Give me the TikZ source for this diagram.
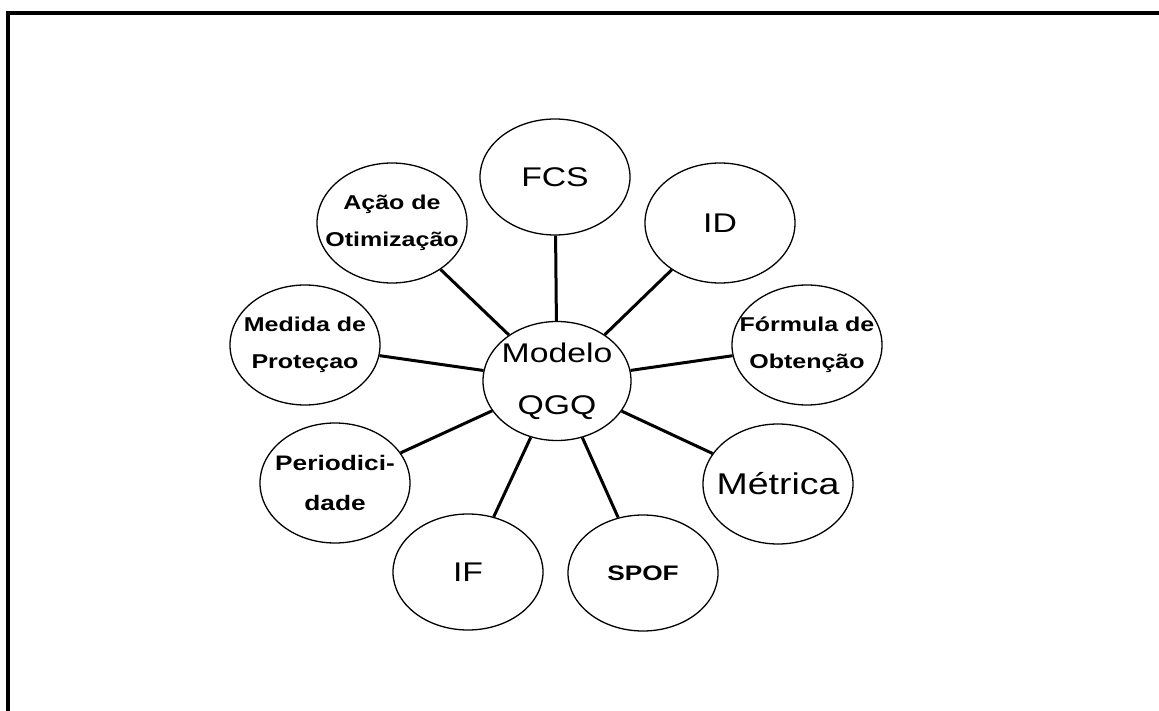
\documentclass[tikz,border=0pt]{standalone}
\usepackage{fontspec}
\setmainfont{Liberation Sans}[FakeStretch=1.25]
\usetikzlibrary{shapes.geometric}

\tikzset{
  bubble/.style={draw, ellipse, line width=1.3pt, minimum width=150pt, minimum height=120pt, inner sep=0pt},
  biglbl/.style={font=\fontsize{27}{52}\selectfont, align=center, inner sep=0pt},
  smalllbl/.style={font=\bfseries\fontsize{20}{37}\selectfont, align=center, inner sep=0pt},
  spoke/.style={line width=3pt}
}

\begin{document}
\begin{tikzpicture}[x=1pt, y=-1pt]
            \useasboundingbox (0,0) rectangle (1159,711);
            \draw[line width=3.5pt] (8,711) -- (8,13) -- (1159,13);
            % centre
            \node[bubble, minimum width=148pt, minimum height=119pt, label={[biglbl]center:{Modelo\\QGQ}}] (qgq) at (557,381) {};
            % ring
            \node[bubble, minimum height=116pt, label={[biglbl]center:FCS}]                       (fcs)  at (555,177) {};
            \node[bubble, label={[biglbl]center:ID}]                                              (id)   at (720,223) {};
            \node[bubble, label={[smalllbl]center:{Fórmula de\\Obtenção}}]                        (form) at (807,345) {};
            \node[bubble, label={[biglbl, font=\fontsize{30}{52}\selectfont]center:Métrica}]      (metr) at (778,484) {};
            \node[bubble, minimum height=116pt, label={[smalllbl, font=\bfseries\fontsize{21}{37}\selectfont]center:SPOF}] (spof) at (643,573) {};
            \node[bubble, minimum height=116pt, label={[biglbl]center:IF}]                        (if)   at (468,572) {};
            \node[bubble, label={[smalllbl, font=\bfseries\fontsize{21}{40}\selectfont]center:{Periodici-\\dade}}] (peri) at (335,483) {};
            \node[bubble, label={[smalllbl]center:{Medida de\\Proteçao}}]                         (med)  at (305,345) {};
            \node[bubble, label={[smalllbl]center:{Ação de\\Otimização}}]                         (acao) at (392,223) {};
            \foreach \n in {fcs,id,form,metr,spof,if,peri,med,acao}
                \draw[spoke] (qgq) -- (\n);
        \end{tikzpicture}
\end{document}
